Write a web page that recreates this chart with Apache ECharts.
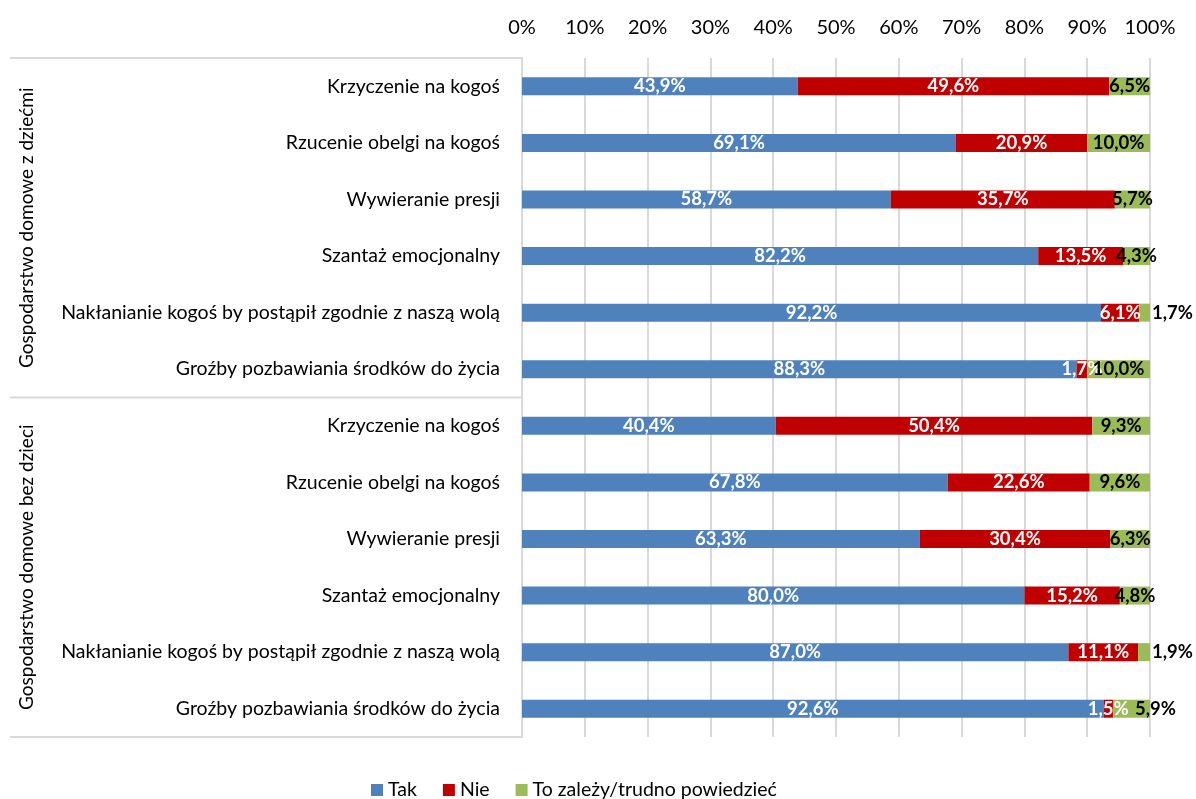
<!DOCTYPE html>
<html>
<head>
<meta charset="utf-8">
<script src="https://cdn.jsdelivr.net/npm/echarts@6/dist/echarts.min.js"></script>
<style>
html,body{margin:0;padding:0;background:#fff;}
#chart{width:1196px;height:799px;}
</style>
</head>
<body>
<div id="chart"></div>
<script>
const categories = [
  'Krzyczenie na kogoś',
  'Rzucenie obelgi na kogoś',
  'Wywieranie presji',
  'Szantaż emocjonalny',
  'Nakłanianie kogoś by postąpił zgodnie z naszą wolą',
  'Groźby pozbawiania środków do życia',
  'Krzyczenie na kogoś',
  'Rzucenie obelgi na kogoś',
  'Wywieranie presji',
  'Szantaż emocjonalny',
  'Nakłanianie kogoś by postąpił zgodnie z naszą wolą',
  'Groźby pozbawiania środków do życia'
];
const groups = ['Gospodarstwo domowe z dziećmi', 'Gospodarstwo domowe bez dzieci'];
const seriesNames = ['Tak', 'Nie', 'To zależy/trudno powiedzieć'];
const tak = [43.9, 69.1, 58.7, 82.2, 92.2, 88.3, 40.4, 67.8, 63.3, 80.0, 87.0, 92.6];
const nie = [49.6, 20.9, 35.7, 13.5, 6.1, 1.7, 50.4, 22.6, 30.4, 15.2, 11.1, 1.5];
const zalezy = [6.5, 10.0, 5.7, 4.3, 1.7, 10.0, 9.3, 9.6, 6.3, 4.8, 1.9, 5.9];
const tickLabels = ['0%','10%','20%','30%','40%','50%','60%','70%','80%','90%','100%'];

const FONT = 'Lato';
const colors = ['#4F81BD', '#C00000', '#9BBB59'];
const fmt = v => v.toFixed(1).replace('.', ',') + '%';

const chart = echarts.init(document.getElementById('chart'), null, {renderer: 'canvas'});

function makeSeries(name, vals, idx) {
  return {
    name: name,
    type: 'bar',
    stack: 'total',
    barWidth: 18,
    itemStyle: {color: colors[idx]},
    label: {
      show: true,
      position: 'inside',
      color: idx === 2 ? '#000' : '#fff',
      fontFamily: FONT,
      fontWeight: 'bold',
      fontSize: 18.5,
      formatter: p => fmt(p.value)
    },
    labelLayout: {hideOverlap: false},
    data: vals.map((v, i) => {
      const d = {value: v};
      if (idx === 2 && (i === 4 || i === 10)) {
        d.label = {position: 'right', distance: 2};
      }
      if (idx === 2 && i === 11) {
        d.label = {position: 'right', distance: -15};
      }
      return d;
    })
  };
}

const option = {
  backgroundColor: '#fff',
  animation: false,
  textStyle: {fontFamily: FONT},
  grid: {left: 522, right: 46, top: 58, bottom: 62, containLabel: false},
  legend: {
    top: 775,
    left: 366,
    itemWidth: 12,
    itemHeight: 12,
    itemGap: 26,
    itemTextGap: 5,
    icon: 'rect',
    textStyle: {fontFamily: FONT, fontSize: 19.5, color: '#000'},
    data: seriesNames
  },
  xAxis: {
    type: 'value',
    position: 'top',
    min: 0,
    max: 100,
    interval: 10,
    axisLine: {show: false},
    axisTick: {show: false},
    splitLine: {show: true, lineStyle: {color: '#D9D9D9', width: 2}},
    axisLabel: {
      fontFamily: FONT, fontSize: 20, color: '#000', margin: 20,
      formatter: v => tickLabels[Math.round(v / 10)]
    }
  },
  yAxis: {
    type: 'category',
    inverse: true,
    data: categories,
    axisLine: {show: true, lineStyle: {color: '#D9D9D9', width: 2}},
    axisTick: {show: false},
    axisLabel: {fontFamily: FONT, fontSize: 19.5, color: '#000', margin: 22, interval: 0}
  },
  series: [
    makeSeries(seriesNames[0], tak, 0),
    makeSeries(seriesNames[1], nie, 1),
    makeSeries(seriesNames[2], zalezy, 2)
  ]
};
chart.setOption(option);

// group bracket lines and rotated group labels
const yTop = chart.convertToPixel({yAxisIndex: 0}, 0);
const yNext = chart.convertToPixel({yAxisIndex: 0}, 1);
const band = yNext - yTop;
const x0 = chart.convertToPixel({xAxisIndex: 0}, 0);
const per = categories.length / groups.length;
const graphics = [];
for (let g = 0; g <= groups.length; g++) {
  const y = yTop - band / 2 + g * per * band;
  graphics.push({
    type: 'line',
    shape: {x1: 10, y1: y, x2: x0, y2: y},
    style: {stroke: '#D9D9D9', lineWidth: 2},
    silent: true
  });
}
groups.forEach((name, g) => {
  const yc = yTop - band / 2 + (g + 0.5) * per * band;
  graphics.push({
    type: 'text',
    x: 27, y: yc,
    rotation: Math.PI / 2,
    style: {
      text: name, fontFamily: FONT, fontSize: 19, fill: '#000',
      align: 'center', verticalAlign: 'middle'
    },
    silent: true
  });
});
chart.setOption({graphic: graphics});
</script>
</body>
</html>
